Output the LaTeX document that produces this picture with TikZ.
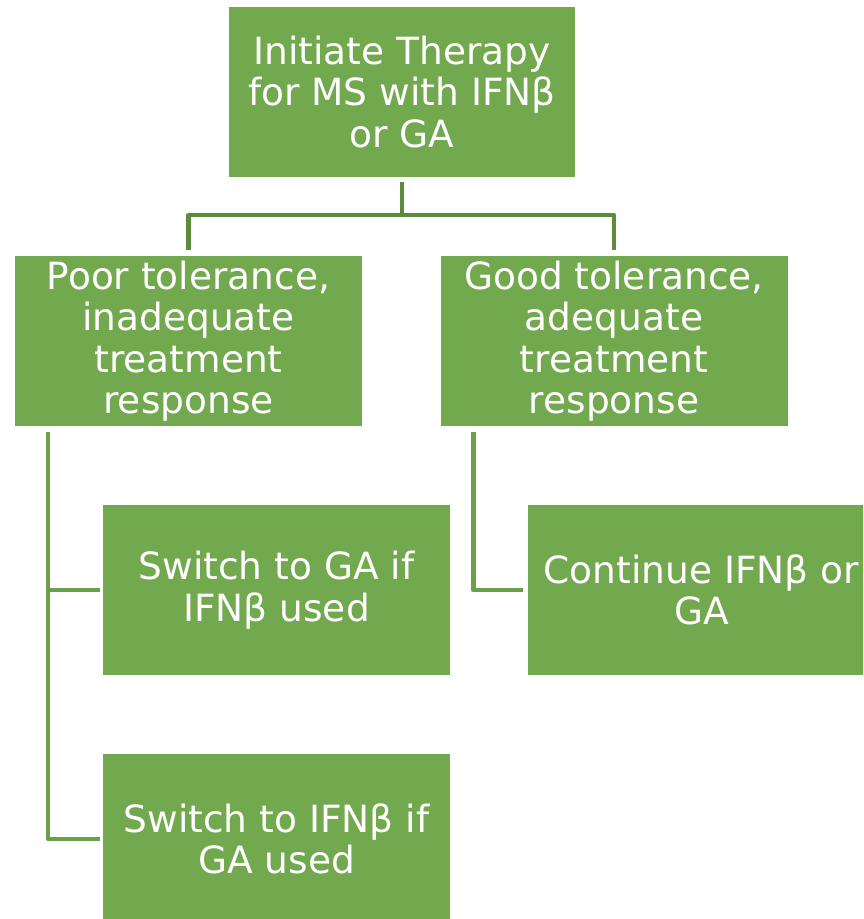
\documentclass[tikz,border=0pt]{standalone}
\usepackage{fontspec}
\setmainfont{DejaVu Sans}
\definecolor{boxgreen}{RGB}{114,169,79}
\definecolor{trunkgreen}{RGB}{94,138,60}
\definecolor{branchgreen}{RGB}{106,160,74}
\begin{document}
\begin{tikzpicture}[x=1pt,y=-1pt,
  stepbox/.style={draw=none,fill=boxgreen,text=white,align=center,
    minimum width=347pt,minimum height=170pt,inner sep=0pt,
    font=\fontsize{37.5}{41.5}\selectfont},
  trunk/.style={draw=trunkgreen,line width=4.5pt,line join=round},
  branch/.style={draw=branchgreen,line width=4.5pt,line join=round}]
\useasboundingbox (0,0) rectangle (863,919);
\begin{scope}
\clip (0,0) rectangle (863,919);
\node[stepbox,minimum width=346pt] (top) at (402,92) {Initiate Therapy\\for MS with IFNβ\\or GA};
\node[stepbox] (poor) at (188.5,341) {Poor tolerance,\\inadequate\\treatment\\response};
\node[stepbox] (good) at (614,341) {Good tolerance,\\adequate\\treatment\\response};
\node[stepbox] (sw1) at (276.5,590) {Switch to GA if\\IFNβ used};
\node[stepbox] (cont) at (701.5,590) {Continue IFNβ or\\GA};
\node[stepbox] (sw2) at (276.5,839) {Switch to IFNβ if\\GA used};
\end{scope}
% trunk from the first decision down to both outcomes
\coordinate (fork) at ([yshift=-38pt]top.south);
\draw[trunk] ([yshift=-5pt]top.south) -- (fork);
\draw[trunk] ([yshift=6pt]poor.north) |- (fork) -| ([yshift=6pt]good.north);
% left branch
\coordinate (lroot) at ([xshift=33pt,yshift=-6pt]poor.south west);
\draw[branch] (lroot) |- ([xshift=-3pt]sw2.west);
\draw[branch] (lroot |- sw1.west) -- ([xshift=-3pt]sw1.west);
% right branch
\coordinate (rroot) at ([xshift=33pt,yshift=-6pt]good.south west);
\draw[branch] (rroot) |- ([xshift=-5pt]cont.west);
\end{tikzpicture}
\end{document}
